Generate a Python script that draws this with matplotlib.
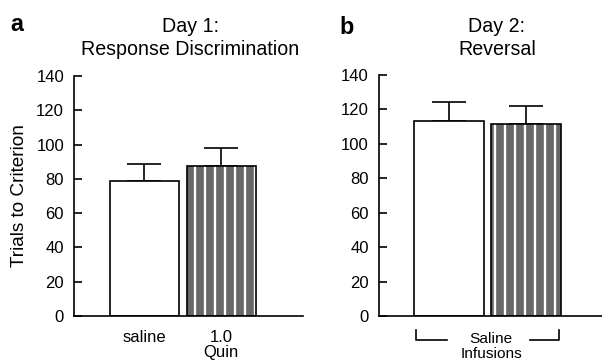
import matplotlib
matplotlib.use("Agg")
from matplotlib import pyplot as plt
import matplotlib.transforms as mtransforms

plt.rcParams['font.family'] = ['Liberation Sans', 'DejaVu Sans']
plt.rcParams['hatch.linewidth'] = 1.4

# Data
day1_labels = ["saline", "1.0\nQuin"]
day1_means = [78.8, 87.5]
day1_sem = [9.9, 10.4]

day2_means = [113.3, 111.6]
day2_sem = [11.0, 10.5]

yticks = [0, 20, 40, 60, 80, 100, 120, 140]

grey = '#686868'
fig = plt.figure(figsize=(602 / 120, 361 / 120), dpi=120)
ax_a = fig.add_axes([74 / 602, 1 - 316 / 361, 229 / 602, 240 / 361])
ax_b = fig.add_axes([379 / 602, 1 - 316 / 361, 223 / 602, 241 / 361])


def draw_panel(ax, means, sem):
    x = range(len(means))
    # first bar white, second striped grey
    ax.bar(0, means[0], width=0.9, color='white', edgecolor='black', linewidth=1.0, zorder=2)
    ax.bar(1, means[1], width=0.9, color=grey, edgecolor='white', hatch='||', linewidth=0, zorder=2)
    ax.bar(1, means[1], width=0.9, fill=False, edgecolor='black', linewidth=1.0, zorder=3)
    ax.errorbar(list(x), means, yerr=[[0] * len(sem), sem], fmt='none', ecolor='black',
                elinewidth=1.0, capsize=10, capthick=1.0, zorder=1)
    ax.set_ylim(0, 140)
    ax.set_yticks(yticks)
    ax.spines['top'].set_visible(False)
    ax.spines['right'].set_visible(False)
    ax.spines['left'].set_linewidth(1.0)
    ax.spines['bottom'].set_linewidth(1.0)
    ax.tick_params(axis='y', direction='in', length=5, width=1.0, labelsize=10, pad=6)
    ax.tick_params(axis='x', length=0, labelsize=10, pad=8.5)


draw_panel(ax_a, day1_means, day1_sem)
ax_a.set_xlim(-0.92, 2.07)
ax_a.set_xticks([0, 1])
ax_a.set_xticklabels(day1_labels, linespacing=0.95)
ax_a.set_ylabel("Trials to Criterion", fontsize=11.4, labelpad=5)

draw_panel(ax_b, day2_means, day2_sem)
ax_b.set_xlim(-0.90, 1.98)
ax_b.set_xticks([])

# bracket under the day 2 bars
trans = mtransforms.blended_transform_factory(ax_b.transData, ax_b.transAxes)
ax_b.plot([-0.42, -0.42, -0.02], [-0.058, -0.1, -0.1], color='black', lw=1.0,
          transform=trans, clip_on=False)
ax_b.plot([1.05, 1.42, 1.42], [-0.1, -0.1, -0.058], color='black', lw=1.0,
          transform=trans, clip_on=False)
ax_b.text(0.55, -0.068, "Saline\nInfusions", transform=trans, ha='center', va='top',
          fontsize=9.2, linespacing=1.05)

# titles and panel letters
fig.text(190 / 602, 1 - 32 / 361, "Day 1:", ha='center', va='baseline', fontsize=11.8)
fig.text(190 / 602, 1 - 55 / 361, "Response Discrimination", ha='center', va='baseline',
         fontsize=11.8)
fig.text(497 / 602, 1 - 32 / 361, "Day 2:", ha='center', va='baseline', fontsize=11.8)
fig.text(497 / 602, 1 - 55 / 361, "Reversal", ha='center', va='baseline', fontsize=11.8)
fig.text(10 / 602, 1 - 31 / 361, "a", fontsize=14, fontweight='bold', va='baseline')
fig.text(339 / 602, 1 - 34 / 361, "b", fontsize=14, fontweight='bold', va='baseline')

fig.savefig("out.png", dpi=120)
